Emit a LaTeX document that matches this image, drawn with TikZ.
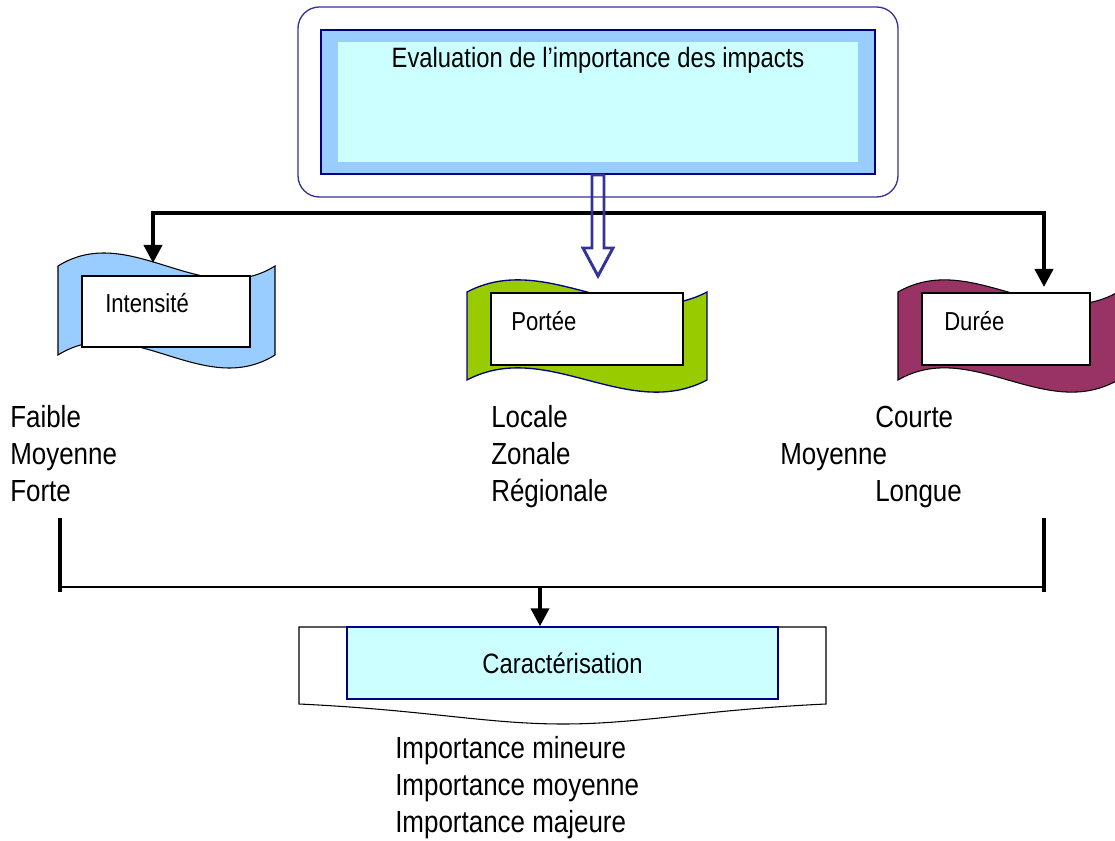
\documentclass[tikz,border=0pt]{standalone}
\usepackage{fontspec}
\setmainfont{Liberation Sans}[FakeStretch=0.85]
\usetikzlibrary{arrows.meta}
\definecolor{paleblue}{HTML}{99CCFF}
\definecolor{palecyan}{HTML}{CCFFFF}
\definecolor{navy}{HTML}{000080}
\definecolor{arrowblue}{HTML}{333399}
\definecolor{grassgreen}{HTML}{99CC00}
\definecolor{plum}{HTML}{993366}
\begin{document}
\begin{tikzpicture}[x=0.75pt, y=-0.75pt,
    box/.style={draw, fill=white, line width=1.1pt, inner sep=0pt},
    lbl/.style={anchor=base west, inner sep=0pt, font=\fontsize{19.5pt}{23pt}\selectfont},
    item/.style={anchor=base west, inner sep=0pt, font=\fontsize{22.9pt}{27pt}\selectfont},
    link/.style={line width=3pt, -{Triangle[length=13.5pt,width=13.5pt]}}
  ]
  \useasboundingbox (0,0) rectangle (1115,841);

  % evaluation block
  \node[draw=arrowblue, line width=1pt, rounded corners=16pt,
    minimum width=450pt, minimum height=142.5pt] (frame) at (598,102) {};
  \node[draw=navy, fill=paleblue, line width=1.5pt, inner sep=0pt,
    minimum width=415.5pt, minimum height=108pt] (eval) at (598,102) {};
  \node[fill=palecyan, inner sep=0pt, minimum width=390pt, minimum height=90pt] at (eval) {};
  \node[anchor=base, inner sep=0pt, font=\fontsize{21pt}{25pt}\selectfont] (title) at (598,68)
    {Evaluation de l’importance des impacts};

  % banners
  \draw[fill=paleblue, line width=0.8pt] (58,266) .. controls (130,221) and (203,311) .. (275,266)
    -- (275,355) .. controls (203,400) and (130,310) .. (58,355) -- cycle;
  \draw[fill=grassgreen, draw=navy, line width=1pt] (467,292) .. controls (547,250) and (627,334) .. (707,292)
    -- (707,380) .. controls (627,422) and (547,338) .. (467,380) -- cycle;
  \draw[fill=plum, line width=0.8pt] (898,292) .. controls (971,250) and (1045,334) .. (1118,292)
    -- (1118,380) .. controls (1045,422) and (971,338) .. (898,380) -- cycle;

  \node[box, minimum width=126pt, minimum height=53.25pt] (intbox) at (166,311.5) {};
  \node[box, minimum width=144pt, minimum height=54pt] (portbox) at (587,329) {};
  \node[box, minimum width=126pt, minimum height=54pt] (durbox) at (1006,329) {};
  \node[lbl] (intlbl) at (105,313) {Intensité};
  \node[lbl] (portlbl) at (511,331) {Portée};
  \node[lbl] (durlbl) at (944,331) {Durée};

  % connectors from the evaluation block
  \coordinate (forkl) at (153,213);
  \coordinate (forkr) at (1044,213);
  \coordinate (intw) at (153,263);
  \coordinate (durw) at (1044,287);
  \draw[link, {Triangle[length=13.5pt,width=13.5pt]}-{Triangle[length=13.5pt,width=13.5pt]}]
    (intw) -- (forkl) -- (forkr) -- (durw);
  \draw[draw=arrowblue, line width=2.2pt] (eval.south) ++(-6,0) -- ++(0,73) -- ++(-9,0)
    -- ++(15,28) -- ++(15,-28) -- ++(-9,0) -- ++(0,-73) -- cycle;

  % criteria
  \node[item] (faible) at (10,428) {Faible};
  \node[item] (moyI) at (10,465) {Moyenne};
  \node[item] (forte) at (10,502) {Forte};
  \node[item] (locale) at (491,428) {Locale};
  \node[item] (zonale) at (491,465) {Zonale};
  \node[item] (region) at (491,502) {Régionale};
  \node[item] (courte) at (875,428) {Courte};
  \node[item] (moyD) at (780,465) {Moyenne};
  \node[item] (longue) at (875,502) {Longue};

  % bracket
  \coordinate (brl) at (60,587);
  \coordinate (brr) at (1044,587);
  \coordinate (joint) at (540,587);
  \draw[line width=3pt] (60,518) -- (60,592);
  \draw[line width=3pt] (1044,518) -- (1044,592);
  \draw[line width=1.5pt] (brl) -- (brr);

  % characterisation
  \draw[line width=0.8pt, fill=white] (299,627) -- (826,627) -- (826,704)
    .. controls (700,710) and (640,724) .. (563,724)
    .. controls (486,724) and (426,710) .. (299,704) -- cycle;
  \node[draw=navy, fill=palecyan, line width=1.1pt, inner sep=0pt,
    minimum width=323.25pt, minimum height=54pt,
    font=\fontsize{21pt}{25pt}\selectfont] (caract) at (562.5,663) {Caractérisation};
  \draw[link] (joint) -- (joint |- caract.north);

  \node[item] (mineure) at (395,758) {Importance mineure};
  \node[item] (moyenne) at (395,795) {Importance moyenne};
  \node[item] (majeure) at (395,832) {Importance majeure};
\end{tikzpicture}
\end{document}
